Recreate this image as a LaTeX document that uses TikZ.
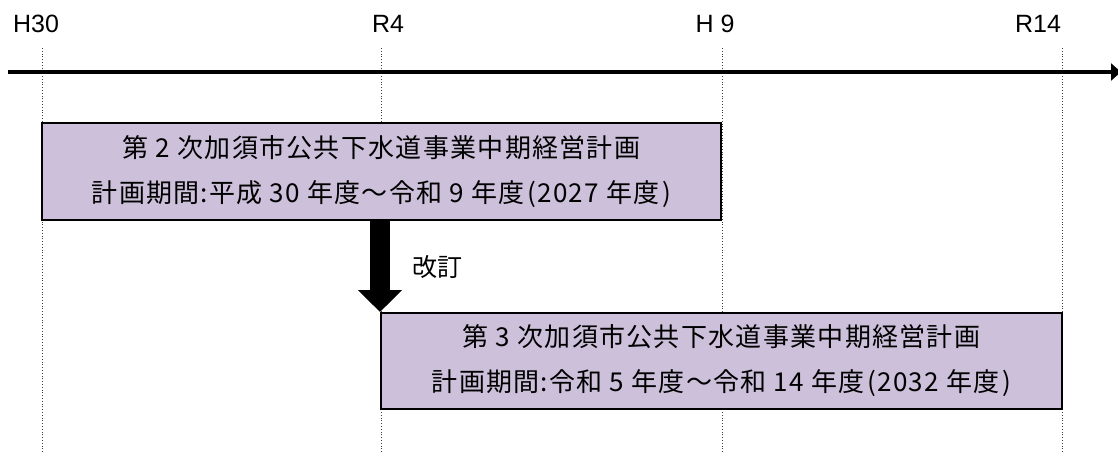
\documentclass[tikz,border=0pt]{standalone}
\usepackage{fontspec}
\setmainfont{Liberation Sans}
\newfontfamily\jpfont[LetterSpace=5]{Noto Sans CJK JP}
\newfontfamily\jpplain{Noto Sans CJK JP}
\usetikzlibrary{arrows.meta}
\definecolor{planfill}{RGB}{204,192,218}
\begin{document}
\begin{tikzpicture}[x=1pt,y=-1pt,
  yearlabel/.style={font=\fontsize{25}{30}\selectfont, inner sep=0pt},
  guide/.style={dotted, line width=0.8pt, black!75},
  planbox/.style={draw=black, line width=2pt, fill=planfill, inner sep=0pt,
    align=center, font=\jpfont\fontsize{26}{45}\selectfont},
  revarrow/.style={line width=20pt, -{Triangle[width=43pt,length=22pt]}}]
\useasboundingbox (0,0) rectangle (1118,454);
% guides
\foreach \gx in {42,381.5,722,1062}{
  \draw[guide] (\gx,48) -- (\gx,454);
}
% axis
\coordinate (axisL) at (8,72);
\coordinate (axisR) at (1121,72);
\draw[line width=3.5pt, -{Triangle[width=17pt,length=10pt]}] (axisL) -- (axisR);
% year labels
\node[yearlabel] (h30) at (36,24) {H30};
\node[yearlabel] (r4) at (388,24) {R4};
\node[yearlabel] (h9) at (715,24) {H 9};
\node[yearlabel] (r14) at (1038,24) {R14};
% plan boxes
\node[planbox, minimum width=679pt, minimum height=97pt] (plan2) at (381.5,171.5)
  {第 2 次加須市公共下水道事業中期経営計画\\計画期間:平成 30 年度～令和 9 年度\kern3pt(2027 年度\kern3pt)};
\node[planbox, minimum width=681pt, minimum height=96pt] (plan3) at (721.5,361)
  {第 3 次加須市公共下水道事業中期経営計画\\計画期間:令和 5 年度～令和 14 年度\kern3pt(2032 年度\kern3pt)};
% revision arrow
\draw[revarrow] (plan2.south -| plan3.north west) -- (plan3.north west);
\node[font=\jpplain\fontsize{25}{30}\selectfont, inner sep=0pt] (kaitei) at (437,267) {改訂};
\end{tikzpicture}
\end{document}
